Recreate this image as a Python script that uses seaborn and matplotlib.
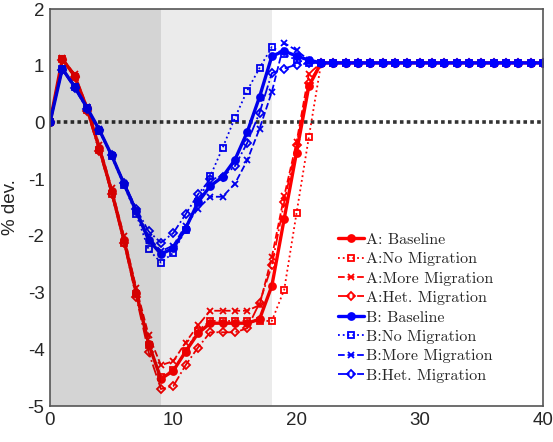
import matplotlib
matplotlib.use("Agg")
import matplotlib.pyplot as plt
import seaborn as sns
import numpy as np
import pandas as pd

t = list(range(41))

A_baseline = [0, 1.12, 0.82, 0.25, -0.45, -1.21, -2.07, -3.0, -3.9, -4.52, -4.38, -4.04, -3.72,
              -3.54, -3.54, -3.54, -3.54, -3.47, -2.88, -1.7, -0.53, 0.64, 1.05,
              1.05, 1.05, 1.05, 1.05, 1.05, 1.05, 1.05, 1.05, 1.05, 1.05, 1.05, 1.05, 1.05, 1.05,
              1.05, 1.05, 1.05, 1.05]
A_nomig = [0, 1.12, 0.8, 0.22, -0.48, -1.26, -2.12, -3.03, -3.93, -4.48, -4.37, -4.03, -3.67,
           -3.5, -3.5, -3.5, -3.5, -3.5, -3.5, -2.95, -1.6, -0.26, 1.05,
           1.05, 1.05, 1.05, 1.05, 1.05, 1.05, 1.05, 1.05, 1.05, 1.05, 1.05, 1.05, 1.05, 1.05,
           1.05, 1.05, 1.05, 1.05]
A_moremig = [0, 1.13, 0.85, 0.28, -0.4, -1.16, -2.0, -2.92, -3.75, -4.28, -4.21, -3.88, -3.58,
             -3.32, -3.32, -3.32, -3.32, -3.22, -2.37, -1.3, -0.35, 0.86, 1.05,
             1.05, 1.05, 1.05, 1.05, 1.05, 1.05, 1.05, 1.05, 1.05, 1.05, 1.05, 1.05, 1.05, 1.05,
             1.05, 1.05, 1.05, 1.05]
A_het = [0, 1.1, 0.8, 0.2, -0.5, -1.26, -2.12, -3.08, -4.05, -4.7, -4.65, -4.28, -3.97,
         -3.7, -3.7, -3.7, -3.63, -3.18, -2.52, -1.41, -0.4, 0.7, 1.05,
         1.05, 1.05, 1.05, 1.05, 1.05, 1.05, 1.05, 1.05, 1.05, 1.05, 1.05, 1.05, 1.05, 1.05,
         1.05, 1.05, 1.05, 1.05]

B_baseline = [0, 0.95, 0.63, 0.26, -0.13, -0.58, -1.08, -1.57, -2.07, -2.32, -2.22, -1.87, -1.41,
              -1.12, -0.96, -0.66, -0.17, 0.45, 1.17, 1.26, 1.17, 1.1, 1.05,
              1.05, 1.05, 1.05, 1.05, 1.05, 1.05, 1.05, 1.05, 1.05, 1.05, 1.05, 1.05, 1.05, 1.05,
              1.05, 1.05, 1.05, 1.05]
B_nomig = [0, 0.95, 0.62, 0.25, -0.15, -0.6, -1.11, -1.62, -2.24, -2.47, -2.3, -1.89, -1.4,
           -0.95, -0.45, 0.08, 0.56, 0.96, 1.33, 1.2, 1.1, 1.05, 1.05,
           1.05, 1.05, 1.05, 1.05, 1.05, 1.05, 1.05, 1.05, 1.05, 1.05, 1.05, 1.05, 1.05, 1.05,
           1.05, 1.05, 1.05, 1.05]
B_moremig = [0, 0.95, 0.65, 0.27, -0.12, -0.57, -1.06, -1.54, -2.02, -2.27, -2.17, -1.82, -1.52,
             -1.31, -1.31, -1.08, -0.67, -0.11, 0.54, 1.4, 1.27, 1.1, 1.05,
             1.05, 1.05, 1.05, 1.05, 1.05, 1.05, 1.05, 1.05, 1.05, 1.05, 1.05, 1.05, 1.05, 1.05,
             1.05, 1.05, 1.05, 1.05]
B_het = [0, 0.93, 0.6, 0.24, -0.14, -0.58, -1.06, -1.52, -1.92, -2.12, -1.95, -1.62, -1.27,
         -1.0, -0.96, -0.77, -0.36, 0.17, 0.87, 0.95, 1.02, 1.04, 1.05,
         1.05, 1.05, 1.05, 1.05, 1.05, 1.05, 1.05, 1.05, 1.05, 1.05, 1.05, 1.05, 1.05, 1.05,
         1.05, 1.05, 1.05, 1.05]

labels = ["A: Baseline", "A:No Migration", "A:More Migration", "A:Het. Migration",
          "B: Baseline", "B:No Migration", "B:More Migration", "B:Het. Migration"]
series = [A_baseline, A_nomig, A_moremig, A_het, B_baseline, B_nomig, B_moremig, B_het]

x_ticks = [0, 10, 20, 30, 40]
y_ticks = [-5, -4, -3, -2, -1, 0, 1, 2]
y_tick_labels = ["-5", "-4", "-3", "-2", "-1", "0", "1", "2"]

sns.set_theme(style="white")
plt.rcParams['font.family'] = ['Liberation Sans', 'DejaVu Sans']
plt.rcParams['axes.unicode_minus'] = False

fig = plt.figure(figsize=(5.53, 4.42), dpi=100)
ax = fig.add_axes([0.0904, 0.0814, 0.8916, 0.8982])

styles = [
    dict(ls='-', marker='o', lw=2.4, mfc='full'),
    dict(ls=':', marker='s', lw=1.3, mfc='none'),
    dict(ls='--', marker='x', lw=1.3, mfc='full'),
    dict(ls='-.', marker='D', lw=1.3, mfc='none'),
]
colors = ['#ff0000'] * 4 + ['#0000ff'] * 4

for i, (lab, vals) in enumerate(zip(labels, series)):
    st = styles[i % 4]
    c = colors[i]
    df = pd.DataFrame({'t': t, 'v': vals})
    mfc = c if st['mfc'] == 'full' else 'none'
    ms = 4.5 if st['marker'] == 'D' else 5
    sns.lineplot(data=df, x='t', y='v', ax=ax, color=c, linestyle=st['ls'],
                 linewidth=st['lw'], marker=st['marker'], markersize=ms,
                 markerfacecolor=mfc, markeredgecolor=c, markeredgewidth=1.3,
                 label=lab, zorder=3 + i * 0.1)

ax.axhline(0, color='#333333', linestyle=(0, (1, 0.9)), linewidth=2.6, zorder=2.9,
           dash_capstyle='butt')

ax.axvspan(0, 9, color='black', alpha=0.17, lw=0, zorder=6)
ax.axvspan(9, 18, color='black', alpha=0.08, lw=0, zorder=6)

ax.set_xlim(0, 40)
ax.set_ylim(-5, 2)
ax.set_xticks(x_ticks)
ax.set_xticklabels([str(v) for v in x_ticks])
ax.set_yticks(y_ticks)
ax.set_yticklabels(y_tick_labels)
ax.tick_params(direction='in', length=5, width=1, labelsize=13.5, colors='#262626',
               top=False, right=False, pad=4)
for sp in ax.spines.values():
    sp.set_color('#555555')
    sp.set_linewidth(1.2)
    sp.set_zorder(7)
ax.set_xlabel('')
ax.set_ylabel('% dev.', fontsize=13.5, color='#262626')
ax.yaxis.set_label_coords(-0.062, 0.5)

leg = ax.legend(loc='upper left', bbox_to_anchor=(0.585, 0.437), frameon=False,
                prop={'family': 'cmr10', 'size': 11.5}, handlelength=1.6,
                handletextpad=0.12, labelspacing=0.33, borderaxespad=0, borderpad=0,
                numpoints=1)
leg.set_zorder(8)

fig.savefig('out.png', dpi=100)
